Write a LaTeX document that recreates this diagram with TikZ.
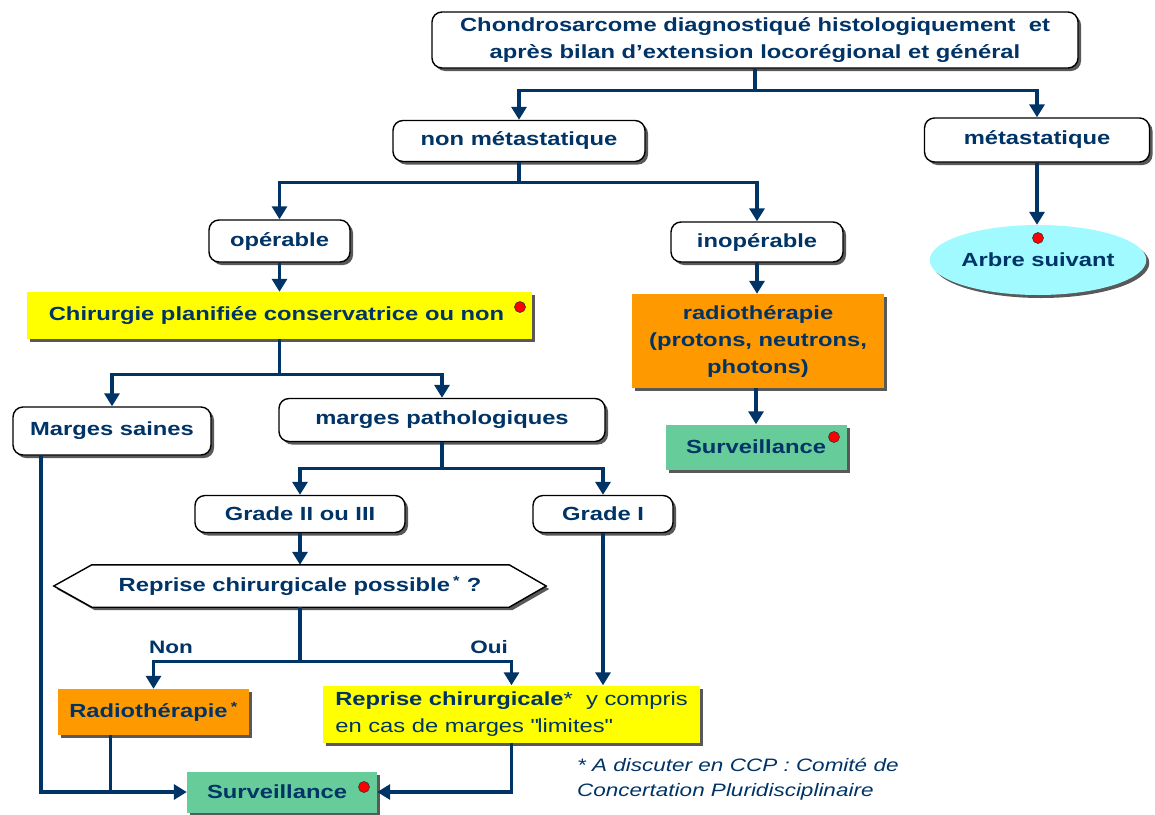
\documentclass[tikz,border=0pt]{standalone}
\usepackage{fontspec}
\setmainfont{Liberation Sans}[FakeStretch=1.25]
\usetikzlibrary{arrows.meta,shadows,shapes.geometric}
\definecolor{navy}{RGB}{0,51,102}
\definecolor{boxyellow}{RGB}{255,255,0}
\definecolor{boxorange}{RGB}{255,153,0}
\definecolor{boxgreen}{RGB}{102,204,153}
\definecolor{boxcyan}{RGB}{160,250,255}
% straight double quote, set as a glyph so the TeX mapping leaves it alone
\newcommand\straightdq{\XeTeXglyph\XeTeXcharglyph"22\relax}
\pgfdeclarelayer{bg}
\pgfsetlayers{bg,main}
\tikzset{
  base/.style={text=navy, font=\fontsize{19}{27}\selectfont\bfseries, inner sep=0pt, align=center},
  shade/.style={drop shadow={shadow xshift=3pt, shadow yshift=-3pt, fill=black!65, opacity=1}},
  rbox/.style={base, shade, draw=black, line width=1.4pt, fill=white, rounded corners=10pt},
  fbox/.style={base, shade, fill=#1},
  conn/.style={draw=navy, line width=3.2pt},
  arr/.style={conn, -{Triangle[length=13pt,width=15pt]}},
  reddot/.style={circle, fill=red, draw=black!80, line width=0.6pt, minimum size=11pt, inner sep=0pt},
  lbl/.style={text=navy, font=\fontsize{18}{24}\selectfont\bfseries, inner sep=0pt},
  note/.style={text=navy, font=\fontsize{18}{25}\selectfont\itshape, inner sep=0pt, align=left}
}
\begin{document}
\begin{tikzpicture}[x=1pt,y=-1pt]
\useasboundingbox (0,0) rectangle (1155,814);

% boxes
\node[rbox, minimum width=646pt, minimum height=56pt] (top) at (755,40)
  {Chondrosarcome diagnostiqué histologiquement\ \ et\\après bilan d’extension locorégional et général};
\node[rbox, minimum width=252pt, minimum height=41pt] (nonmet) at (519,141) {non métastatique};
\node[rbox, minimum width=225pt, minimum height=44pt] (met) at (1037,140) {métastatique};
\node[rbox, minimum width=141pt, minimum height=42pt] (oper) at (279.5,241) {opérable};
\node[rbox, minimum width=172pt, minimum height=40pt] (inoper) at (757,242) {inopérable};
\node[base, shade, ellipse, fill=boxcyan, minimum width=215pt, minimum height=70pt] (arbre) at (1038,260)
  {\raisebox{-6pt}{Arbre suivant}};
\node[fbox=boxyellow, minimum width=505pt, minimum height=47pt] (chir) at (279.5,315.5)
  {Chirurgie planifiée conservatrice ou non\hspace{6pt}};
\node[fbox=boxorange, minimum width=252pt, minimum height=94pt] (radio) at (758,341)
  {radiothérapie\\(protons, neutrons,\\photons)};
\node[fbox=boxgreen, minimum width=181pt, minimum height=45pt] (surva) at (756,447) {Surveillance};
\node[rbox, minimum width=198pt, minimum height=48pt] (saines) at (112,431) {Marges saines};
\node[rbox, minimum width=326pt, minimum height=43pt] (patho) at (442,420) {marges pathologiques};
\node[rbox, minimum width=210pt, minimum height=37pt] (gradeb) at (300,514) {Grade II ou III};
\node[rbox, minimum width=140pt, minimum height=37pt] (gradea) at (603,514) {Grade I};
\node[base, minimum width=492pt, minimum height=42pt] (hex) at (300,586)
  {Reprise chirurgicale possible\,\textsuperscript{*} ?};
\begin{pgfonlayer}{bg}
  \draw[shade, draw=black, line width=1.4pt, fill=white]
    (hex.west) -- ([xshift=38pt]hex.north west) -- ([xshift=-37pt]hex.north east)
    -- (hex.east) -- ([xshift=-37pt]hex.south east) -- ([xshift=38pt]hex.south west) -- cycle;
\end{pgfonlayer}
\node[fbox=boxorange, minimum width=191pt, minimum height=46pt] (radiob) at (153.5,712)
  {Radiothérapie\,\textsuperscript{*}};
\node[fbox=boxyellow, minimum width=377pt, minimum height=57pt, align=left] (reprise) at (511.5,714)
  {Reprise chirurgicale\mdseries* \ y compris\\\mdseries en cas de marges \straightdq limites\straightdq};
\node[fbox=boxgreen, minimum width=190pt, minimum height=41pt] (survb) at (282,792) {Surveillance\hspace{10pt}};

% markers
\node[reddot] (dchir) at (520,307) {};
\node[reddot] (dsurva) at (834,437) {};
\node[reddot] (dsurvb) at (364,787) {};
\node[reddot] (darbre) at (1038,238) {};

% labels
\node[lbl] (non) at (171,647) {Non};
\node[lbl] (oui) at (489,647) {Oui};
\node[note, anchor=north west] (fn) at (577,758)
  {* A discuter en CCP : Comité de\\Concertation Pluridisciplinaire};

% connectors
\path (top.south) ++(0,22) coordinate (ja);
\draw[conn] (top.south) -- (ja);
\draw[arr] (ja) -| (nonmet.north);
\draw[arr] (ja) -| (met.north);

\path (nonmet.south) ++(0,20) coordinate (jb);
\draw[conn] (nonmet.south) -- (jb);
\draw[arr] (jb) -| (oper.north);
\draw[arr] (jb) -| (inoper.north);

\draw[arr] (met.south) -- (met.south |- arbre.north);
\draw[arr] (oper.south) -- (oper.south |- chir.north);
\draw[arr] (inoper.south) -- (inoper.south |- radio.north);
\draw[arr] (surva.north |- radio.south) -- (surva.north);

\path (chir.south) ++(0,35) coordinate (jc);
\draw[conn] (chir.south) -- (jc);
\draw[arr] (jc) -| (saines.north);
\draw[arr] (jc) -| (patho.north);

\path (patho.south) ++(0,26.5) coordinate (jd);
\draw[conn] (patho.south) -- (jd);
\draw[arr] (jd) -| (gradeb.north);
\draw[arr] (jd) -| (gradea.north);

\draw[arr] (gradeb.south) -- (gradeb.south |- hex.north);

\path (hex.south) ++(0,54) coordinate (je);
\draw[conn] (hex.south) -- (je);
\draw[arr] (je) -| (radiob.north);
\draw[arr] (je) -| (reprise.north);

\draw[arr] (gradea.south) -- (gradea.south |- reprise.north);

\draw[arr] ([xshift=-71pt]saines.south) |- (survb.west);
\path ([xshift=-43pt]radiob.south) coordinate (rbs);
\draw[conn] (rbs) -- (rbs |- survb.west);
\draw[arr] (reprise.south) |- (survb.east);
\end{tikzpicture}
\end{document}
